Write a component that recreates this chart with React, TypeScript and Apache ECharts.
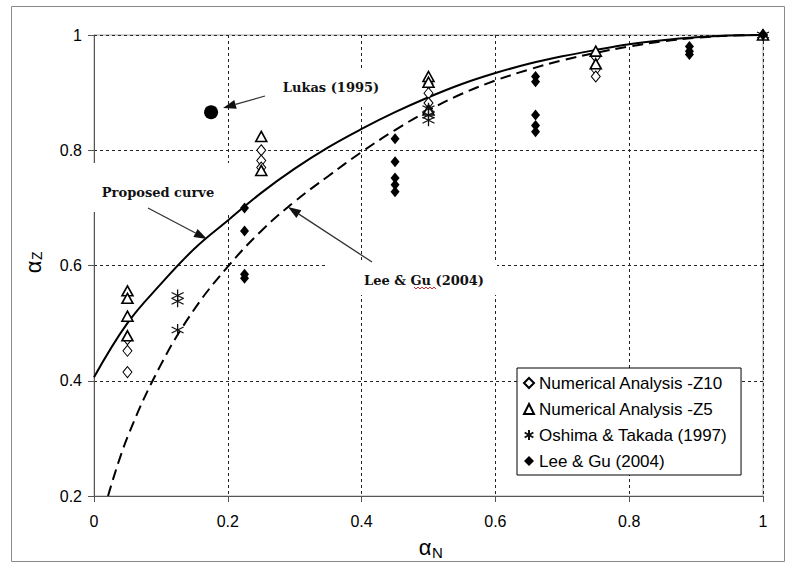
import React, { useEffect, useRef } from "react";
import * as echarts from "echarts";

// Axis ranges and ticks
const X_MIN = 0;
const X_MAX = 1;
const Y_MIN = 0.2;
const Y_MAX = 1;
const TICK_STEP = 0.2;

// Proposed curve, sampled along αN
const proposedX = [0, 0.05, 0.1, 0.15, 0.2, 0.25, 0.3, 0.35, 0.4, 0.45, 0.5, 0.55, 0.6, 0.65, 0.7, 0.75, 0.8, 0.85, 0.9, 0.95, 1];
const proposedY = [0.406, 0.5, 0.568, 0.629, 0.678, 0.726, 0.768, 0.805, 0.837, 0.866, 0.892, 0.915, 0.934, 0.95, 0.963, 0.974, 0.984, 0.991, 0.996, 0.999, 1];

// Lee & Gu (2004) design curve
const leeGuCurveX = [0.021, 0.05, 0.1, 0.15, 0.2, 0.25, 0.3, 0.35, 0.4, 0.45, 0.5, 0.55, 0.6, 0.65, 0.7, 0.75, 0.8, 0.85, 0.9, 0.95, 1];
const leeGuCurveY = [0.2, 0.302, 0.428, 0.524, 0.598, 0.66, 0.711, 0.755, 0.797, 0.835, 0.869, 0.898, 0.921, 0.94, 0.956, 0.969, 0.98, 0.989, 0.995, 0.999, 1];

// Measured / computed points [αN, αZ]
const numericalZ10: number[][] = [
  [0.05, 0.472], [0.05, 0.452], [0.05, 0.415],
  [0.25, 0.8], [0.25, 0.782], [0.25, 0.77],
  [0.5, 0.915], [0.5, 0.899], [0.5, 0.882],
  [0.75, 0.962], [0.75, 0.94], [0.75, 0.928],
  [1, 1],
];
const numericalZ5: number[][] = [
  [0.05, 0.556], [0.05, 0.543], [0.05, 0.512], [0.05, 0.478],
  [0.25, 0.824], [0.25, 0.765],
  [0.5, 0.928], [0.5, 0.918], [0.5, 0.87],
  [0.75, 0.972], [0.75, 0.95],
  [1, 1],
];
const oshimaTakada: number[][] = [
  [0.125, 0.548], [0.125, 0.538], [0.125, 0.488],
  [0.5, 0.872], [0.5, 0.861], [0.5, 0.852],
  [1, 1],
];
const leeGuPoints: number[][] = [
  [0.225, 0.7], [0.225, 0.66], [0.225, 0.585], [0.225, 0.578],
  [0.45, 0.82], [0.45, 0.78], [0.45, 0.752], [0.45, 0.74], [0.45, 0.728],
  [0.66, 0.928], [0.66, 0.919], [0.66, 0.861], [0.66, 0.843], [0.66, 0.832],
  [0.89, 0.98], [0.89, 0.972], [0.89, 0.966],
  [1, 1],
];
const lukasPoint: number[][] = [[0.175, 0.866]];

const seriesNames = [
  "Numerical Analysis -Z10",
  "Numerical Analysis -Z5",
  "Oshima & Takada (1997)",
  "Lee & Gu (2004)",
];

const SANS = "'Liberation Sans', Arial, sans-serif";
const SERIF = "'DejaVu Serif', 'Liberation Serif', serif";
const ASTERISK = "path://M5,0L5,10M0.67,2.5L9.33,7.5M0.67,7.5L9.33,2.5";

function zip(xs: number[], ys: number[]) {
  return xs.map((x, i) => [x, ys[i]]);
}

function arrow(x1: number, y1: number, x2: number, y2: number, head = 13, half = 4.5) {
  const len = Math.hypot(x2 - x1, y2 - y1);
  const ux = (x2 - x1) / len;
  const uy = (y2 - y1) / len;
  const bx = x2 - ux * head;
  const by = y2 - uy * head;
  return [
    {
      type: "line",
      z: 10,
      shape: { x1, y1, x2: bx, y2: by },
      style: { stroke: "#333", lineWidth: 1.3 },
    },
    {
      type: "polygon",
      z: 10,
      shape: {
        points: [
          [x2, y2],
          [bx - uy * half, by + ux * half],
          [bx + uy * half, by - ux * half],
        ],
      },
      style: { fill: "#111" },
    },
  ];
}

function whiteBox(x: number, y: number, w: number, h: number) {
  return { type: "rect", z: 1, shape: { x, y, width: w, height: h }, style: { fill: "#fff" } };
}

function note(text: string, x: number, y: number) {
  return {
    type: "text",
    z: 10,
    x,
    y,
    style: {
      text,
      fill: "#111",
      font: `bold 13px ${SERIF}`,
      align: "center",
      verticalAlign: "middle",
    },
  };
}

function squiggle(x0: number, x1: number, y: number) {
  const pts: number[][] = [];
  let up = true;
  for (let x = x0; x <= x1; x += 2) {
    pts.push([x, up ? y - 1 : y + 1]);
    up = !up;
  }
  return { type: "polyline", z: 10, shape: { points: pts }, style: { stroke: "#d03030", lineWidth: 1, fill: null } };
}

export default function App() {
  const ref = useRef<HTMLDivElement>(null);

  useEffect(() => {
    const chart = echarts.init(ref.current!, null, { renderer: "svg" });

    const splitLine = { show: true, lineStyle: { color: "#222", type: [3, 3], width: 1 } };

    const option: any = {
      animation: false,
      backgroundColor: "#fff",
      grid: {
        left: 94,
        right: 27,
        top: 35,
        bottom: 70,
        show: true,
        borderColor: "#a8a8a8",
        borderWidth: 1,
        backgroundColor: "transparent",
      },
      xAxis: {
        type: "value",
        min: X_MIN,
        max: X_MAX,
        interval: TICK_STEP,
        axisLine: { show: true, lineStyle: { color: "#555", width: 1 } },
        axisTick: { show: true, inside: false, length: 6, lineStyle: { color: "#555" } },
        axisLabel: { color: "#000", fontFamily: SANS, fontSize: 16, margin: 17 },
        splitLine,
      },
      yAxis: {
        type: "value",
        min: Y_MIN,
        max: Y_MAX,
        interval: TICK_STEP,
        axisLine: { show: true, lineStyle: { color: "#555", width: 1 } },
        axisTick: { show: true, inside: false, length: 6, lineStyle: { color: "#555" } },
        axisLabel: { color: "#000", fontFamily: SANS, fontSize: 16, margin: 12 },
        splitLine,
      },
      legend: {
        data: seriesNames,
        orient: "vertical",
        left: 517,
        top: 368,
        itemWidth: 10,
        itemHeight: 10,
        itemGap: 8,
        padding: [6, 14, 5, 6],
        backgroundColor: "#fff",
        borderColor: "#000",
        borderWidth: 1,
        borderRadius: 0,
        selectedMode: false,
        textStyle: { fontFamily: SANS, fontSize: 17, color: "#000", lineHeight: 18 },
      },
      series: [
        {
          name: "Proposed curve",
          type: "line",
          data: zip(proposedX, proposedY),
          smooth: 0.4,
          showSymbol: false,
          z: 3,
          lineStyle: { color: "#000", width: 2 },
        },
        {
          name: "Lee & Gu curve",
          type: "line",
          data: zip(leeGuCurveX, leeGuCurveY),
          smooth: 0.4,
          showSymbol: false,
          z: 3,
          lineStyle: { color: "#000", width: 2, type: [11, 6] },
        },
        {
          name: seriesNames[0],
          type: "scatter",
          data: numericalZ10,
          symbol: "diamond",
          symbolSize: [9, 11],
          z: 5,
          itemStyle: { color: "#fff", borderColor: "#000", borderWidth: 1, opacity: 1 },
        },
        {
          name: seriesNames[1],
          type: "scatter",
          data: numericalZ5,
          symbol: "triangle",
          symbolSize: [11, 10],
          z: 5,
          itemStyle: { color: "#fff", borderColor: "#000", borderWidth: 1.6, opacity: 1 },
        },
        {
          name: seriesNames[2],
          type: "scatter",
          data: oshimaTakada,
          symbol: ASTERISK,
          symbolSize: 12,
          z: 5,
          itemStyle: { color: "rgba(0,0,0,0)", borderColor: "#111", borderWidth: 1.3, opacity: 1 },
        },
        {
          name: seriesNames[3],
          type: "scatter",
          data: leeGuPoints,
          symbol: "diamond",
          symbolSize: [9, 11],
          z: 5,
          itemStyle: { color: "#000", opacity: 1 },
        },
        {
          name: "Lukas (1995)",
          type: "scatter",
          data: lukasPoint,
          symbol: "circle",
          symbolSize: 14,
          z: 5,
          itemStyle: { color: "#000", opacity: 1 },
        },
      ],
      graphic: [
        // outer frame
        {
          type: "rect",
          z: 0,
          shape: { x: 11.5, y: 6.5, width: 773, height: 555 },
          style: { fill: null, stroke: "#8a8a8a", lineWidth: 1 },
        },
        // text boxes masking the grid behind the annotations
        whiteBox(88, 163, 144, 49),
        whiteBox(274, 68, 112, 37),
        whiteBox(325, 263, 172, 32),
        note("Proposed curve", 158, 192),
        note("Lukas (1995)", 331, 87),
        note("Lee & Gu (2004)", 424, 280),
        squiggle(414, 437, 288),
        ...arrow(148, 208, 207, 239),
        ...arrow(265, 96, 223, 108),
        ...arrow(372, 262, 288, 207),
        // axis titles
        {
          type: "text",
          z: 10,
          x: 425,
          y: 547,
          style: { text: "α", font: `22px ${SANS}`, fill: "#000", align: "center", verticalAlign: "middle" },
        },
        {
          type: "text",
          z: 10,
          x: 432,
          y: 552,
          style: { text: "N", font: `15px ${SANS}`, fill: "#000", align: "left", verticalAlign: "middle" },
        },
        {
          type: "group",
          x: 33,
          y: 262,
          rotation: Math.PI / 2,
          z: 10,
          children: [
            {
              type: "text",
              z: 10,
              x: -5,
              y: 0,
              style: { text: "α", font: `22px ${SANS}`, fill: "#000", align: "center", verticalAlign: "middle" },
            },
            {
              type: "text",
              z: 10,
              x: 2,
              y: 4,
              style: { text: "Z", font: `14px ${SANS}`, fill: "#000", align: "left", verticalAlign: "middle" },
            },
          ],
        },
      ],
    };

    chart.setOption(option);
    return () => chart.dispose();
  }, []);

  return (
    <div
      ref={ref}
      style={{ position: "fixed", left: 0, top: 0, width: 790, height: 566, background: "#fff" }}
    />
  );
}
